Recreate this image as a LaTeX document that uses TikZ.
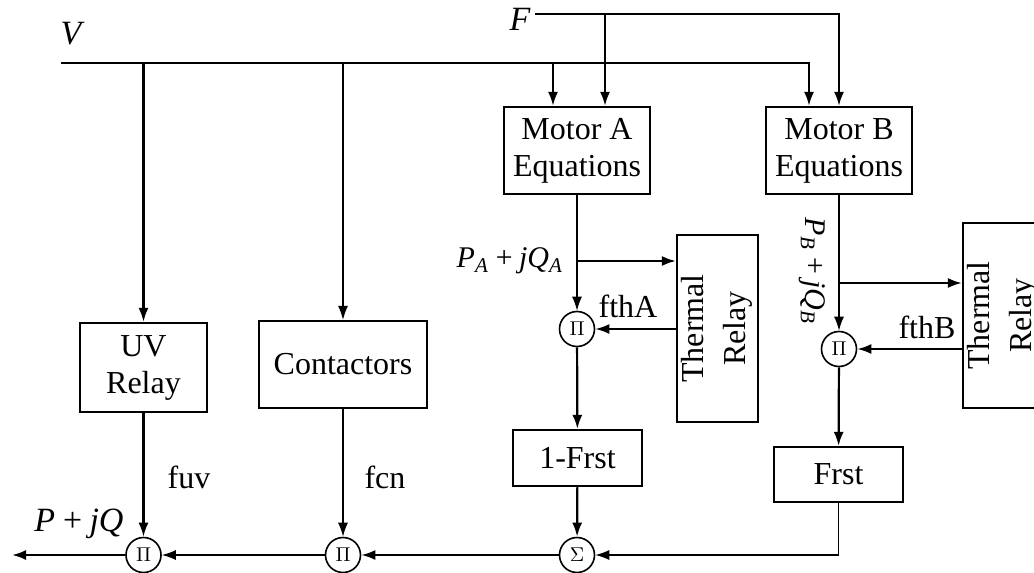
\documentclass[tikz,border=0pt]{standalone}
\usepackage{fontspec}
\setmainfont{Liberation Serif}
\usetikzlibrary{arrows.meta}
\begin{document}
\begin{tikzpicture}[x=0.5pt,y=-0.5pt,line width=1.1pt,
    >={Latex[length=7pt,width=5pt]},
    font=\fontsize{16}{18.5}\selectfont,
    blk/.style={draw,line width=1.1pt,align=center,inner sep=0pt},
    mult/.style={draw,circle,line width=0.8pt,minimum size=17.5pt,
        inner sep=0pt,font=\fontsize{10}{12}\selectfont},
    thin/.style={line width=0.7pt},
    big/.style={font=\fontsize{17}{20}\selectfont\itshape},
    sig/.style={font=\fontsize{15}{18}\selectfont\itshape,inner sep=1pt}]
    \useasboundingbox (0,0) rectangle (1034,573);

    \node[big] (vlbl) at (71,34) {V};
    \node[big] (flbl) at (520,19) {F};
    \coordinate (vin) at (61,63);
    \coordinate (vA) at (553,63);
    \coordinate (vB) at (809,63);
    \coordinate (fin) at (535,14);
    \coordinate (fA) at (605,14);

    \node[blk,minimum width=73pt,minimum height=43.5pt] (motA) at (577,150.5)
        {Motor A\\Equations};
    \node[blk,minimum width=73pt,minimum height=43.5pt] (motB) at (839,150.5)
        {Motor B\\Equations};
    \node[blk,minimum width=63.5pt,minimum height=44.5pt] (uv) at (143.5,367.5)
        {UV\\Relay};
    \node[blk,minimum width=84pt,minimum height=43.5pt] (con) at (343,364.5)
        {Contactors};
    \node[blk,minimum width=40.5pt,minimum height=93.5pt] (thA) at (717.5,328.5)
        {\rotatebox{90}{\begin{tabular}{@{}c@{}}Thermal\\[2.5pt]Relay\end{tabular}}};
    \node[blk,minimum width=40.5pt,minimum height=92.5pt] (thB) at (1003.5,315.5)
        {\rotatebox{90}{\begin{tabular}{@{}c@{}}Thermal\\[2.5pt]Relay\end{tabular}}};
    \node[blk,minimum width=64.5pt,minimum height=28pt] (frA) at (577.5,458)
        {1-Frst};
    \node[blk,minimum width=64.5pt,minimum height=27.5pt] (frB) at (838.5,474.5)
        {Frst};

    \node[mult] (piA) at (577,329) {$\Pi$};
    \node[mult] (piB) at (839,349) {$\Pi$};
    \node[mult] (sig) at (577,555) {$\Sigma$};
    \node[mult] (piC) at (343,555) {$\Pi$};
    \node[mult] (piU) at (143.5,555) {$\Pi$};
    \coordinate (out) at (12,555);
    \coordinate (brA) at (577,261);
    \coordinate (brB) at (839,283);

    \node[sig,anchor=east] (pqA) at (566,261)
        {P\textsubscript{A}\,+\,jQ\textsubscript{A}};
    \node[sig,rotate=-90] (pqB) at (812,271)
        {P\textsubscript{B}\,+\,jQ\textsubscript{B}};
    \node[sig,font=\fontsize{17}{20}\selectfont\itshape] (pq) at (79,524)
        {P\,+\,jQ};
    \node (fthA) at (628,306) {fthA};
    \node (fthB) at (927,327) {fthB};
    \node (fuv) at (189,477) {fuv};
    \node (fcn) at (385,477) {fcn};

    % V and F buses
    \draw[->] (vin) -- (vB) -- (vB |- motB.north);
    \draw[->] (uv.north |- vin) -- (uv.north);
    \draw[->,thin] (con.north |- vin) -- (con.north);
    \draw[->] (vA) -- (vA |- motA.north);
    \draw[->] (fin) -- (fin -| motB.north) -- (motB.north);
    \draw[->] (fA) -- (fA |- motA.north);

    % motor A chain
    \draw[->,thin] (motA.south) -- (piA);
    \draw[->] (brA) -- (brA -| thA.west);
    \draw[->] (thA.west |- piA) -- (piA);
    \draw[->] (piA) -- (frA);
    \draw[->] (frA) -- (sig);

    % motor B chain
    \draw[->,thin] (motB.south) -- (piB);
    \draw[->] (brB) -- (brB -| thB.west);
    \draw[->] (thB.west |- piB) -- (piB);
    \draw[->] (piB) -- (frB);
    \draw[->,thin] (frB.south) |- (sig);

    % output
    \draw[->] (uv) -- (piU);
    \draw[->,thin] (con) -- (piC);
    \draw[->] (sig) -- (piC);
    \draw[->,thin] (piC) -- (piU);
    \draw[->] (piU) -- (out);
\end{tikzpicture}
\end{document}
